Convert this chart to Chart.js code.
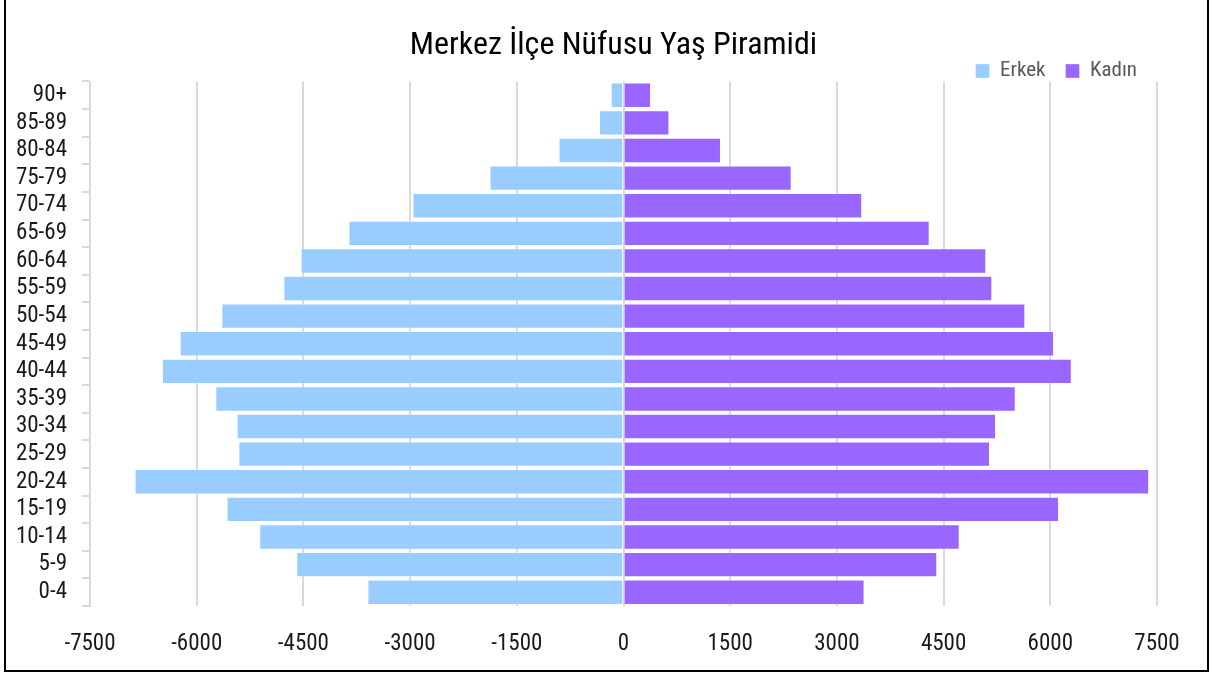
<!DOCTYPE html>
<html lang="tr">
<head>
<meta charset="utf-8">
<title>Merkez İlçe Nüfusu Yaş Piramidi</title>
<script src="https://cdn.jsdelivr.net/npm/chart.js@4.4.1/dist/chart.umd.min.js"></script>
<style>
  html, body { margin: 0; padding: 0; background: #fff; }
  .wrap { position: relative; width: 1211px; height: 676px; overflow: hidden; }
  .frame { position: absolute; left: 4px; top: -2px; width: 1201px; height: 670px; border: 2px solid #000; pointer-events: none; }
</style>
</head>
<body>
<div class="wrap">
  <canvas id="pyramid"></canvas>
  <div class="frame"></div>
</div>
<script>
const ageGroups = ['0-4', '5-9', '10-14', '15-19', '20-24', '25-29', '30-34', '35-39', '40-44',
  '45-49', '50-54', '55-59', '60-64', '65-69', '70-74', '75-79', '80-84', '85-89', '90+'];
const erkek = [-3600, -4600, -5121, -5580, -6873, -5414, -5438, -5738, -6488,
  -6240, -5653, -4781, -4538, -3866, -2966, -1883, -913, -345, -180];
const kadin = [3389, 4411, 4726, 6123, 7390, 5152, 5237, 5514, 6302,
  6053, 5649, 5185, 5100, 4304, 3356, 2364, 1370, 646, 388];
const xTicks = [-7500, -6000, -4500, -3000, -1500, 0, 1500, 3000, 4500, 6000, 7500];

const FONT = "'Roboto Condensed', 'Liberation Sans Narrow', 'DejaVu Sans Condensed', sans-serif";
const GRID = '#d9d9d9';

Chart.defaults.font.family = FONT;
Chart.defaults.color = '#1a1a1a';

new Chart(document.getElementById('pyramid'), {
  type: 'bar',
  data: {
    labels: ageGroups,
    datasets: [
      { label: 'Erkek', data: erkek, backgroundColor: '#99ccff', borderColor: 'rgba(255,255,255,.35)', borderWidth: 1 },
      { label: 'Kadın', data: kadin, backgroundColor: '#9966ff', borderColor: 'rgba(255,255,255,.35)', borderWidth: 1 }
    ]
  },
  options: {
    indexAxis: 'y',
    responsive: true,
    maintainAspectRatio: false,
    animation: false,
    barPercentage: 0.92,
    categoryPercentage: 1,
    layout: { padding: { top: 40, left: 16, right: 0, bottom: 22 } },
    plugins: {
      title: {
        display: true,
        text: 'Merkez İlçe Nüfusu Yaş Piramidi',
        color: '#000',
        font: { size: 32, weight: 'normal', lineHeight: 0.35 },
        // title box kept short so the legend sits close under it
        padding: { top: 0, bottom: -10.7 }
      },
      legend: {
        position: 'top',
        align: 'end',
        fullSize: false,
        maxHeight: 41,
        labels: { color: '#595959', boxWidth: 14, boxHeight: 14, padding: 20, font: { size: 21 } }
      },
      tooltip: { enabled: false }
    },
    scales: {
      x: {
        stacked: true,
        min: -7500,
        max: 7500,
        afterBuildTicks: (scale) => { scale.ticks = xTicks.map((v) => ({ value: v })); },
        afterFit: (scale) => { scale.height = 48; },
        ticks: { padding: 24, font: { size: 23 }, callback: (v) => String(v) },
        grid: { color: GRID, lineWidth: 2, drawTicks: false },
        border: { display: false }
      },
      y: {
        stacked: true,
        reverse: true,
        afterFit: (scale) => { scale.width = 74; },
        ticks: { padding: 15, autoSkip: false, font: { size: 23 } },
        grid: { color: GRID, lineWidth: 2, drawOnChartArea: false, tickLength: 8 },
        border: { display: true, color: GRID, width: 2 }
      },
      // empty right-hand axis, keeps room right of the plot like the original
      side: {
        type: 'linear',
        position: 'right',
        afterFit: (scale) => { scale.width = 54; },
        ticks: { display: false },
        grid: { display: false, drawTicks: false },
        border: { display: false }
      }
    }
  }
});
</script>
</body>
</html>
